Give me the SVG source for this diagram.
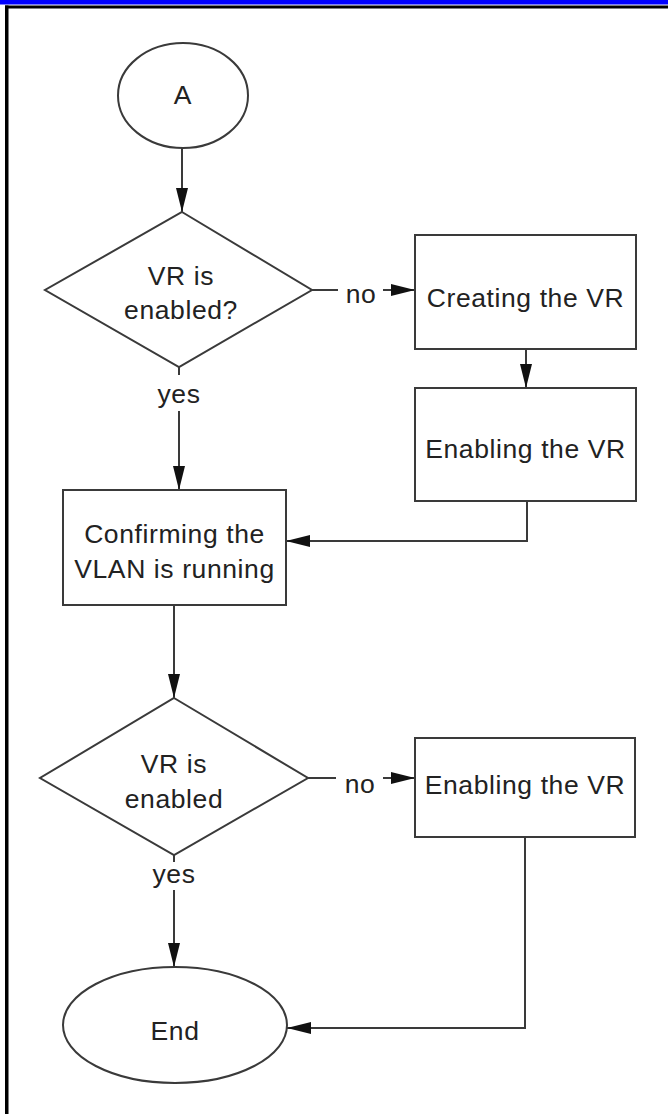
<svg xmlns="http://www.w3.org/2000/svg" width="668" height="1114" viewBox="0 0 668 1114">
<style>
.shape{fill:#fff;stroke:#3a3a3a;stroke-width:2}
.edge{fill:none;stroke:#3a3a3a;stroke-width:2}
.t{font-family:"Liberation Sans",Arial,sans-serif;font-size:26.5px;letter-spacing:0.6px;fill:#222;text-anchor:middle}
</style>
<defs>
<marker id="ah" markerUnits="userSpaceOnUse" markerWidth="24" markerHeight="12" refX="24" refY="6" orient="auto">
<path d="M0,0 L24,6 L0,12 z" fill="#111"/>
</marker>
</defs>
<rect x="0" y="0" width="668" height="4.5" fill="#0000ff"/>
<rect x="5" y="5.5" width="663" height="3" fill="#000"/>
<rect x="5" y="5.5" width="3.5" height="1108.5" fill="#000"/>

<g id="connectors">
<path class="edge" d="M182,148 V212" marker-end="url(#ah)"/>
<path class="edge" d="M312,290 H338"/>
<path class="edge" d="M383,290 H415" marker-end="url(#ah)"/>
<path class="edge" d="M526,349 V388" marker-end="url(#ah)"/>
<path class="edge" d="M527,501 V541 H286" marker-end="url(#ah)"/>
<path class="edge" d="M179,367 V375"/>
<path class="edge" d="M179,411 V490" marker-end="url(#ah)"/>
<path class="edge" d="M174,605 V698" marker-end="url(#ah)"/>
<path class="edge" d="M308,778 H336"/>
<path class="edge" d="M383,778 H415" marker-end="url(#ah)"/>
<path class="edge" d="M174,855 V862"/>
<path class="edge" d="M174,890 V967" marker-end="url(#ah)"/>
<path class="edge" d="M525,837 V1028 H287" marker-end="url(#ah)"/>
<text class="t" x="361" y="303">no</text>
<text class="t" x="179" y="403">yes</text>
<text class="t" x="360" y="793">no</text>
<text class="t" x="174" y="883">yes</text>
</g>

<g id="start">
<ellipse class="shape" cx="183" cy="95.5" rx="65" ry="52.5"/>
<text class="t" x="183" y="104">A</text>
</g>
<g id="decision1">
<path class="shape" d="M182,212 L312,290 L179,367 L45,290 Z"/>
<text class="t" x="181" y="285">VR is</text>
<text class="t" x="181" y="319">enabled?</text>
</g>
<g id="create-vr">
<rect class="shape" x="415" y="235" width="221" height="114"/>
<text class="t" x="525.5" y="307">Creating the VR</text>
</g>
<g id="enable-vr-1">
<rect class="shape" x="415" y="388" width="221" height="113"/>
<text class="t" x="525.5" y="458">Enabling the VR</text>
</g>
<g id="confirm-vlan">
<rect class="shape" x="63" y="490" width="223" height="115"/>
<text class="t" x="174.5" y="543">Confirming the</text>
<text class="t" x="174.5" y="578">VLAN is running</text>
</g>
<g id="decision2">
<path class="shape" d="M174,698 L308,778 L174,855 L40,778 Z"/>
<text class="t" x="174" y="773">VR is</text>
<text class="t" x="174" y="808">enabled</text>
</g>
<g id="enable-vr-2">
<rect class="shape" x="415" y="738" width="220" height="99"/>
<text class="t" x="525" y="794">Enabling the VR</text>
</g>
<g id="end">
<ellipse class="shape" cx="175" cy="1025" rx="112" ry="58"/>
<text class="t" x="175" y="1040">End</text>
</g>
</svg>
